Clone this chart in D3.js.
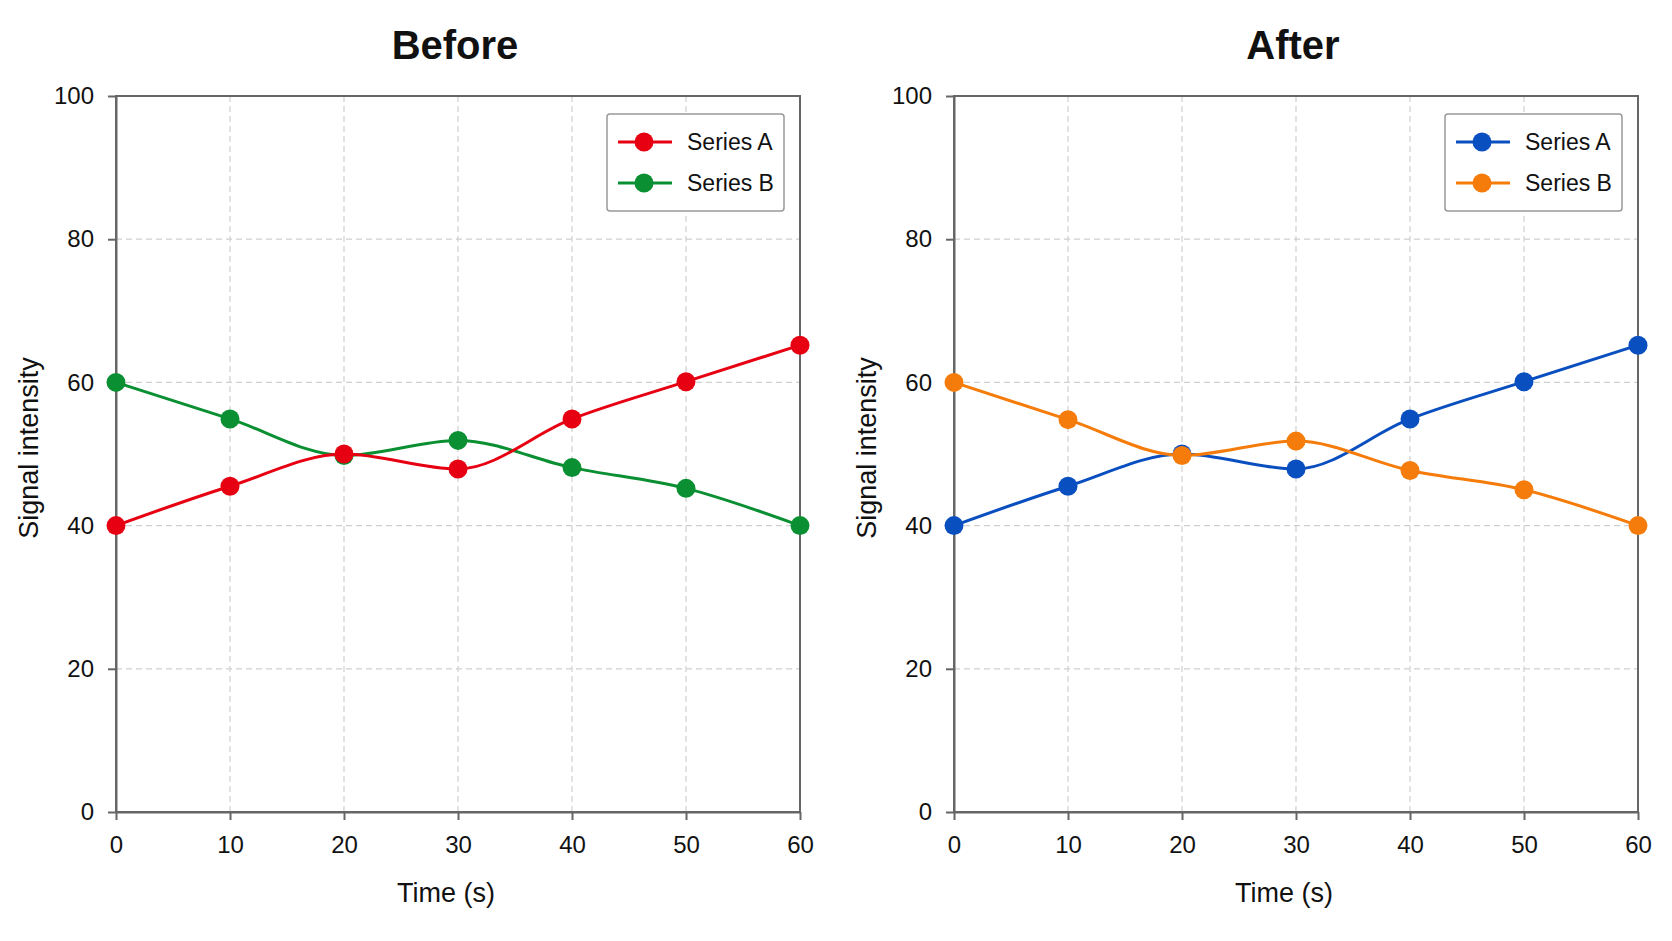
<!DOCTYPE html>
<html>
<head>
<meta charset="utf-8">
<script src="https://cdn.jsdelivr.net/npm/d3@7"></script>
<style>
  body { margin: 0; background: #fff; }
  svg { display: block; font-family: "Liberation Sans", Arial, sans-serif; }
  .tick text { font-size: 24px; fill: #111; }
  .tick line { stroke: #666; stroke-width: 2; }
  .domain { stroke: #666; stroke-width: 2; }
  .grid line { stroke: #d0d0d0; stroke-width: 1.2; stroke-dasharray: 6,4; }
</style>
</head>
<body>
<div id="chart"></div>
<script>
// ---------------------------------------------------------------- data
const time = [0, 10, 20, 30, 40, 50, 60];
const xTicks = [0, 10, 20, 30, 40, 50, 60];
const yTicks = [0, 20, 40, 60, 80, 100];
const seriesNames = ["Series A", "Series B"];
const panelTitles = ["Before", "After"];

const beforeA = [40, 45.5, 50, 47.9, 54.9, 60.1, 65.2];
const beforeB = [60, 54.9, 49.8, 51.9, 48.1, 45.2, 40];
const afterA = [40, 45.5, 50, 47.9, 54.9, 60.1, 65.2];
const afterB = [60, 54.8, 49.8, 51.8, 47.7, 45, 40];

const beforeColors = ["#e60012", "#0a8f32"];
const afterColors = ["#0a4fbf", "#f57c0a"];

// ---------------------------------------------------------------- layout
const W = 1672, H = 941;
const plotTop = 96, plotBottom = 812;
const panels = [ // order = which series is painted first
  { left: 116, right: 800, title: panelTitles[0], series: [beforeA, beforeB], colors: beforeColors, order: [1, 0] },
  { left: 954, right: 1638, title: panelTitles[1], series: [afterA, afterB], colors: afterColors, order: [0, 1] }
];

const svg = d3.select("#chart").append("svg")
  .attr("width", W)
  .attr("height", H);

panels.forEach(function(p) {
  const x = d3.scaleLinear().domain([0, 60]).range([p.left, p.right]);
  const y = d3.scaleLinear().domain([0, 100]).range([plotBottom, plotTop]);
  const g = svg.append("g");

  // grid
  g.append("g").attr("class", "grid")
    .selectAll("line.v").data(xTicks.slice(1, -1)).enter().append("line")
    .attr("x1", d => x(d)).attr("x2", d => x(d))
    .attr("y1", plotTop).attr("y2", plotBottom);
  g.append("g").attr("class", "grid")
    .selectAll("line.h").data(yTicks.slice(1, -1)).enter().append("line")
    .attr("x1", p.left).attr("x2", p.right)
    .attr("y1", d => y(d)).attr("y2", d => y(d));

  // frame
  g.append("rect")
    .attr("x", p.left).attr("y", plotTop)
    .attr("width", p.right - p.left).attr("height", plotBottom - plotTop)
    .attr("fill", "none").attr("stroke", "#666").attr("stroke-width", 2);

  // axes
  g.append("g")
    .attr("transform", "translate(0," + plotBottom + ")")
    .call(d3.axisBottom(x).tickValues(xTicks).tickSize(8).tickPadding(16).tickSizeOuter(0));
  g.append("g")
    .attr("transform", "translate(" + p.left + ",0)")
    .call(d3.axisLeft(y).tickValues(yTicks).tickSize(8).tickPadding(14).tickSizeOuter(0));

  // lines + markers
  p.order.forEach(function(si) {
    const vals = p.series[si];
    const pts = time.map((t, i) => [t, vals[i]]);
    const line = d3.line()
      .x(d => x(d[0])).y(d => y(d[1]))
      .curve(d3.curveMonotoneX);
    g.append("path")
      .datum(pts)
      .attr("d", line)
      .attr("fill", "none")
      .attr("stroke", p.colors[si])
      .attr("stroke-width", 3);
    g.selectAll("circle.s" + si).data(pts).enter().append("circle")
      .attr("cx", d => x(d[0])).attr("cy", d => y(d[1]))
      .attr("r", 9.5)
      .attr("fill", p.colors[si]);
  });

  // titles
  g.append("text")
    .attr("x", (p.left + p.right) / 2 - 3).attr("y", 59)
    .attr("text-anchor", "middle")
    .attr("font-size", 40).attr("font-weight", "bold").attr("fill", "#111")
    .text(p.title);
  g.append("text")
    .attr("x", (p.left + p.right) / 2 - 12).attr("y", 902)
    .attr("text-anchor", "middle")
    .attr("font-size", 27).attr("fill", "#111")
    .text("Time (s)");
  g.append("text")
    .attr("transform", "translate(" + (p.left - 78) + "," + ((plotTop + plotBottom) / 2 - 6) + ") rotate(-90)")
    .attr("text-anchor", "middle")
    .attr("font-size", 27).attr("fill", "#111")
    .text("Signal intensity");

  // legend
  const lg = g.append("g").attr("transform", "translate(" + (p.right - 193) + "," + (plotTop + 18) + ")");
  lg.append("rect")
    .attr("width", 177).attr("height", 97).attr("rx", 3)
    .attr("fill", "#fff").attr("stroke", "#999").attr("stroke-width", 1.5);
  seriesNames.forEach(function(name, si) {
    const ly = 28 + si * 41;
    lg.append("line")
      .attr("x1", 11).attr("x2", 65).attr("y1", ly).attr("y2", ly)
      .attr("stroke", p.colors[si]).attr("stroke-width", 3);
    lg.append("circle")
      .attr("cx", 37).attr("cy", ly).attr("r", 9.5)
      .attr("fill", p.colors[si]);
    lg.append("text")
      .attr("x", 80).attr("y", ly + 8)
      .attr("font-size", 23).attr("fill", "#111")
      .text(name);
  });
});
</script>
</body>
</html>
